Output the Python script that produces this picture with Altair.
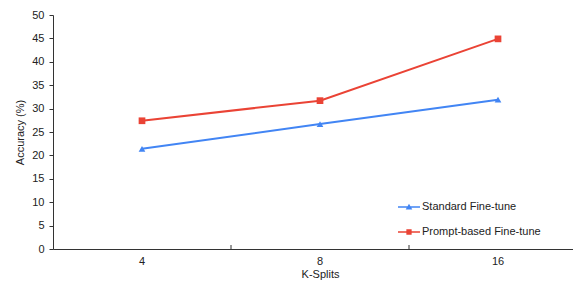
import altair as alt
import pandas as pd

k_splits = ["4", "8", "16"]
standard = [21.4, 26.7, 31.9]
prompt = [27.4, 31.7, 44.9]
series_names = ["Standard Fine-tune", "Prompt-based Fine-tune"]
series_colors = ["#4285F4", "#EA4335"]
series_shapes = ["triangle-up", "square"]
legend_shapes = [
    "M-1,-0.07H1V0.07H-1ZM0,-0.3L0.3,0.22H-0.3Z",
    "M-1,-0.07H1V0.07H-1ZM-0.24,-0.24H0.24V0.24H-0.24Z",
]
band_edges = ["8", "16"]
y_ticks = list(range(0, 55, 5))

df = pd.DataFrame({
    "K": k_splits * 2,
    "acc": standard + prompt,
    "series": [series_names[0]] * 3 + [series_names[1]] * 3,
})
edges = pd.DataFrame({"K": band_edges})

FONT = "Liberation Sans"

xscale = alt.Scale(type="band", paddingInner=0, paddingOuter=0, range=[0, 534])
x = alt.X(
    "K:N",
    sort=k_splits,
    bandPosition=0.5,
    scale=xscale,
    axis=alt.Axis(
        title="K-Splits", ticks=False, labelAngle=0,
        labelPadding=6, titleBaseline="bottom", titleY=30,
        domainColor="#333333",
    ),
)
y = alt.Y(
    "acc:Q",
    scale=alt.Scale(domain=[0, 50], nice=False),
    axis=alt.Axis(
        title="Accuracy (%)", values=y_ticks, grid=False, tickSize=4,
        labelPadding=5, titlePadding=6, domainColor="#333333", tickColor="#333333",
    ),
)
cscale = alt.Scale(domain=series_names, range=series_colors)

ticks = alt.Chart(edges).mark_rule(color="#333333", strokeWidth=1).encode(
    x=alt.X("K:N", sort=k_splits, bandPosition=0, scale=xscale),
    y=alt.value(234),
    y2=alt.value(230),
)
lines = alt.Chart(df).mark_line(strokeWidth=2).encode(
    x=x, y=y, color=alt.Color("series:N", scale=cscale, legend=None)
)
points = alt.Chart(df).mark_point(filled=True, size=45, opacity=1).encode(
    x=x, y=y,
    color=alt.Color("series:N", scale=cscale, legend=None),
    shape=alt.Shape("series:N", scale=alt.Scale(domain=series_names, range=series_shapes), legend=None),
)
legend_kw = dict(
    title=None, orient="none", legendX=345, legendY=181,
    symbolSize=484, symbolOpacity=1, symbolStrokeWidth=0,
    labelFontSize=11, labelOffset=2, rowPadding=9, padding=0,
)
ghost = alt.Chart(df).mark_point(filled=True, opacity=0).encode(
    x=x, y=y,
    color=alt.Color("series:N", scale=cscale, legend=alt.Legend(**legend_kw)),
    shape=alt.Shape("series:N", scale=alt.Scale(domain=series_names, range=legend_shapes),
                    legend=alt.Legend(**legend_kw)),
)

chart = alt.layer(lines, points, ghost, ticks).resolve_scale(
    color="independent", shape="independent"
).properties(
    width=520, height=234,
    autosize=alt.AutoSizeParams(type="none"),
    padding={"left": 45, "top": 7, "right": 0, "bottom": 31},
).configure_view(stroke=None).configure_axis(
    labelFont=FONT, titleFont=FONT, labelFontSize=11, titleFontSize=11,
    labelColor="#222222", titleColor="#222222", titleFontWeight="normal",
).configure_legend(labelFont=FONT, labelColor="#222222")

chart.save("out.html", embed_options={"renderer": "svg", "actions": False})
